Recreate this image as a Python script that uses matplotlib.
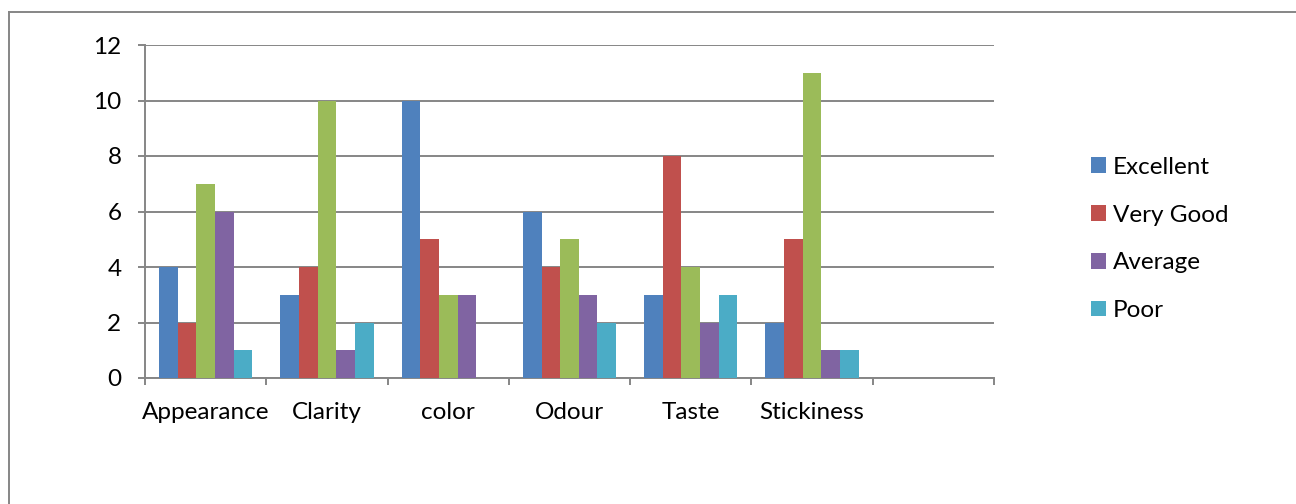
import numpy as np
import matplotlib.pyplot as plt
from matplotlib.patches import Patch
from matplotlib.lines import Line2D

# data
categories = ["Appearance", "Clarity", "color", "Odour", "Taste", "Stickiness", ""]
excellent = [4, 3, 10, 6, 3, 2, np.nan]
very_good = [2, 4, 5, 4, 8, 5, np.nan]
good = [7, 10, 3, 5, 4, 11, np.nan]
average = [6, 1, 3, 3, 2, 1, np.nan]
poor = [1, 2, 0, 2, 3, 1, np.nan]

series = [excellent, very_good, good, average, poor]
names = ["Excellent", "Very Good", "", "Average", "Poor"]   # green one has no legend entry
colors = ["#4F81BD", "#C0504D", "#9BBB59", "#8064A2", "#4BACC6"]

plt.rcParams['font.family'] = ['Lato', 'DejaVu Sans']
fs = 17.5
grey = "#868686"

fig = plt.figure(figsize=(12.96, 5.04), dpi=100)
ax = fig.add_axes([145/1296, 1-378/504, (994-145)/1296, (378-45)/504])

n = len(categories)
nser = len(series)
gap = 1.5
w = 1.0/(nser + gap)
x = np.arange(n)
for i, (vals, c) in enumerate(zip(series, colors)):
    pos = x + gap*w/2 + i*w + w/2
    ax.bar(pos, vals, width=w, color=c, edgecolor="none", zorder=3)

ax.set_xlim(0, n)
ax.set_ylim(0, 12)
ax.set_yticks(np.arange(0, 13, 2))
ax.yaxis.grid(True, color=grey, linewidth=1.4, zorder=0)
ax.set_axisbelow(True)

# ticks at category boundaries, labels at centres
ax.set_xticks(np.arange(0, n+1))
ax.set_xticklabels([])
ax.set_xticks(x + 0.5, minor=True)
ax.set_xticklabels(categories, minor=True)
ax.tick_params(axis='x', which='major', length=5, width=1.4, color=grey, direction='out')
ax.tick_params(axis='x', which='minor', length=0, pad=17, labelsize=fs)
ax.tick_params(axis='y', length=5, width=1.4, color=grey, pad=12, labelsize=fs)

for s in ['top', 'right']:
    ax.spines[s].set_visible(False)
for s in ['left', 'bottom']:
    ax.spines[s].set_color(grey)
    ax.spines[s].set_linewidth(1.4)

handles = [Patch(facecolor=c, label=nm) for c, nm in zip(colors, names) if nm]
fig.legend(handles=handles, loc='center left', bbox_to_anchor=(1081/1296, 1-239/504),
           frameon=False, fontsize=fs, handlelength=0.62, handleheight=0.62,
           handletextpad=0.28, labelspacing=1.1, borderaxespad=0)

# outer chart border (left and top edges visible)
fig.add_artist(Line2D([8.5/1296, 8.5/1296], [0, 1-11.5/504], transform=fig.transFigure,
                      color=grey, linewidth=1.4))
fig.add_artist(Line2D([8.5/1296, 1], [1-11.5/504, 1-11.5/504], transform=fig.transFigure,
                      color=grey, linewidth=1.4))

fig.savefig("out.png", dpi=100)
